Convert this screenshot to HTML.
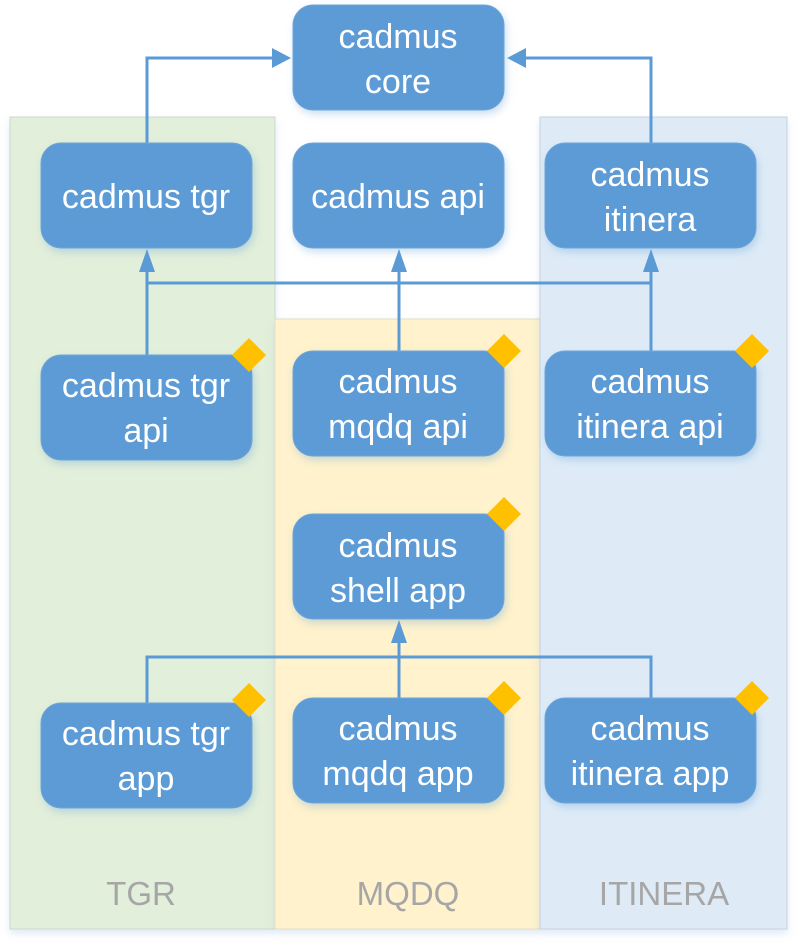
<!DOCTYPE html>
<html><head><meta charset="utf-8"><style>
html,body{margin:0;padding:0;background:#fff;}
svg{display:block;}
text{font-family:"Liberation Sans",sans-serif;}
</style></head><body>
<svg width="800" height="947" viewBox="0 0 800 947" xmlns="http://www.w3.org/2000/svg">
<defs>
<filter id="sh" x="-10%" y="-10%" width="130%" height="140%">
<feDropShadow dx="2" dy="4" stdDeviation="4" flood-color="#5b9bd5" flood-opacity="0.3"/>
</filter>
<filter id="psh" x="-5%" y="-5%" width="110%" height="110%">
<feDropShadow dx="0" dy="4" stdDeviation="4" flood-color="#9bb8e0" flood-opacity="0.3"/>
</filter>
</defs>
<rect x="10" y="117" width="265" height="812" fill="#e2efda" stroke="#cfd8cc" stroke-width="1" filter="url(#psh)"/>
<rect x="275" y="319" width="265" height="610" fill="#fff2cc" stroke="#e6dcc0" stroke-width="1" filter="url(#psh)"/>
<rect x="540" y="117" width="247" height="812" fill="#deebf7" stroke="#c8d2de" stroke-width="1" filter="url(#psh)"/>
<g font-size="33" fill="#a6a6a6" text-anchor="middle">
<text x="141" y="905">TGR</text>
<text x="408" y="905">MQDQ</text>
<text x="664" y="905">ITINERA</text>
</g>
<g stroke="#5b9bd5" stroke-width="3" fill="none">
<polyline points="147,143 147,58 280,58"/>
<polyline points="651,143 651,58 518,58"/>
<line x1="147" y1="283" x2="651" y2="283"/>
<line x1="147" y1="262" x2="147" y2="355"/>
<line x1="399" y1="262" x2="399" y2="351"/>
<line x1="651" y1="262" x2="651" y2="351"/>
<polyline points="147,703 147,657 651,657 651,698"/>
<line x1="399" y1="633" x2="399" y2="698"/>
</g>
<g fill="#5b9bd5">
<polygon points="291,58 272,48 272,68"/>
<polygon points="507,58 526,48 526,68"/>
<polygon points="147,249 139,272 155,272"/>
<polygon points="399,249 391,272 407,272"/>
<polygon points="651,249 643,272 659,272"/>
<polygon points="399,620 391,643 407,643"/>
</g>
<g fill="#5b9bd5" stroke="#6fa4d8" stroke-width="1" filter="url(#sh)">
<rect x="293" y="5" width="211" height="105" rx="20"/>
<rect x="41" y="143" width="211" height="105" rx="20"/>
<rect x="293" y="143" width="211" height="105" rx="20"/>
<rect x="545" y="143" width="211" height="105" rx="20"/>
<rect x="41" y="355" width="211" height="105" rx="20"/>
<rect x="293" y="351" width="211" height="105" rx="20"/>
<rect x="545" y="351" width="211" height="105" rx="20"/>
<rect x="293" y="514" width="211" height="105" rx="20"/>
<rect x="41" y="703" width="211" height="105" rx="20"/>
<rect x="293" y="698" width="211" height="105" rx="20"/>
<rect x="545" y="698" width="211" height="105" rx="20"/>
</g>
<g fill="#ffc000">
<polygon points="249,338 266,355 249,372 232,355"/>
<polygon points="504,334 521,351 504,368 487,351"/>
<polygon points="752,334 769,351 752,368 735,351"/>
<polygon points="504,497 521,514 504,531 487,514"/>
<polygon points="249,683 266,700 249,717 232,700"/>
<polygon points="504,681 521,698 504,715 487,698"/>
<polygon points="752,681 769,698 752,715 735,698"/>
</g>
<g font-size="34" fill="#ffffff" text-anchor="middle">
<text x="398" y="48">cadmus</text><text x="398" y="93">core</text>
<text x="146" y="208">cadmus tgr</text>
<text x="398" y="208">cadmus api</text>
<text x="650" y="186">cadmus</text><text x="650" y="231">itinera</text>
<text x="146" y="397">cadmus tgr</text><text x="146" y="442">api</text>
<text x="398" y="393">cadmus</text><text x="398" y="438">mqdq api</text>
<text x="650" y="393">cadmus</text><text x="650" y="438">itinera api</text>
<text x="398" y="557">cadmus</text><text x="398" y="602">shell app</text>
<text x="146" y="745">cadmus tgr</text><text x="146" y="790">app</text>
<text x="398" y="740">cadmus</text><text x="398" y="785">mqdq app</text>
<text x="650" y="740">cadmus</text><text x="650" y="785">itinera app</text>
</g>
</svg>
</body></html>
